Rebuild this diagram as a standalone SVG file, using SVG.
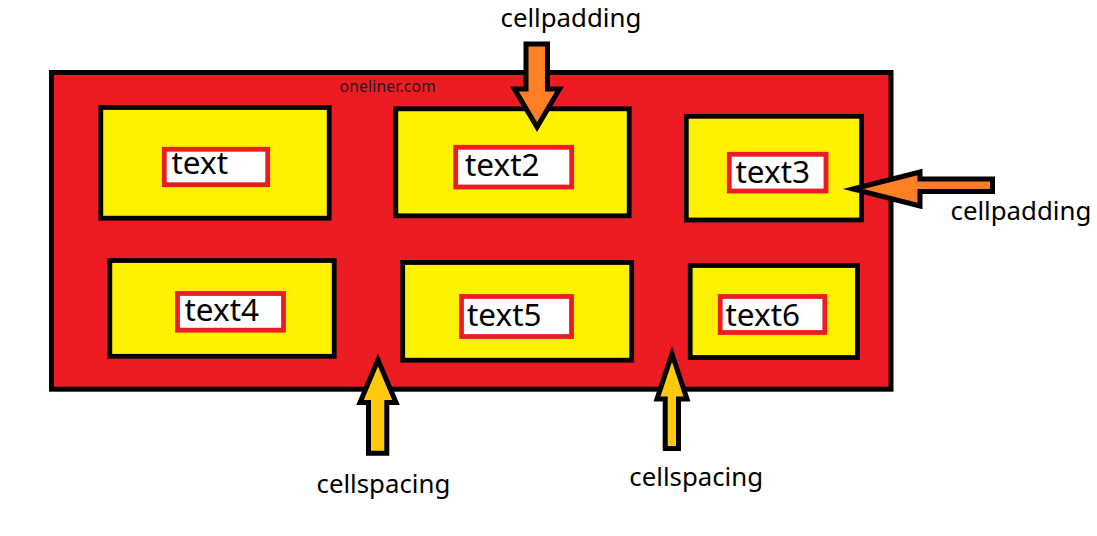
<svg xmlns="http://www.w3.org/2000/svg" width="1097" height="536" viewBox="0 0 1097 536">
<style>
.table{fill:#ED1C24;stroke:#000;stroke-width:5}
.cell{fill:#FFF200;stroke:#000;stroke-width:4.8}
.box{fill:#FFF;stroke:#ED1C24;stroke-width:4.8}
.t{font-family:"Noto Sans","Open Sans","DejaVu Sans",sans-serif;font-size:31.5px;fill:#000}
.lbl{font-family:"Noto Sans","Open Sans","DejaVu Sans",sans-serif;font-size:25.8px;fill:#000}
.small{font-family:"Noto Sans","Open Sans","DejaVu Sans",sans-serif;font-size:15.5px;letter-spacing:0.25px;fill:#1a1a1a}
.pad{fill:#FF7F27;stroke:#000;stroke-width:5;stroke-linejoin:miter;stroke-miterlimit:6}
.spc{fill:#FFC90E;stroke:#000;stroke-width:5;stroke-linejoin:miter;stroke-miterlimit:6}
</style>
<rect width="1097" height="536" fill="#FFF"/>
<g id="table">
<rect class="table" x="51.5" y="72.5" width="839.5" height="316.7"/>
<text class="small" x="339.5" y="91.7">oneliner.com</text>
</g>
<g id="cell1">
<rect class="cell" x="100.8" y="107.5" width="228.4" height="110.7"/>
<rect class="box" x="164.3" y="149.3" width="103.4" height="35.4"/>
<text class="t" x="171.5" y="174.3">text</text>
</g>
<g id="cell2">
<rect class="cell" x="395.8" y="108.8" width="233.4" height="107"/>
<rect class="box" x="455.7" y="147.3" width="116" height="39.7"/>
<text class="t" x="465" y="176">text2</text>
</g>
<g id="cell3">
<rect class="cell" x="686.3" y="116.3" width="175.3" height="103.7"/>
<rect class="box" x="729.3" y="154.3" width="96.7" height="36.7"/>
<text class="t" x="735.5" y="182.7">text3</text>
</g>
<g id="cell4">
<rect class="cell" x="109.8" y="260.5" width="224.4" height="95.8"/>
<rect class="box" x="177.5" y="293.5" width="106" height="36.7"/>
<text class="t" x="184.5" y="320.7">text4</text>
</g>
<g id="cell5">
<rect class="cell" x="402.7" y="262.5" width="229" height="97.7"/>
<rect class="box" x="461.5" y="296.5" width="110" height="40"/>
<text class="t" x="467" y="326">text5</text>
</g>
<g id="cell6">
<rect class="cell" x="690.2" y="265.5" width="167.3" height="92"/>
<rect class="box" x="720.2" y="296.5" width="104.6" height="36"/>
<text class="t" x="725.5" y="325.7">text6</text>
</g>
<g id="connectors">
<polygon class="pad" points="526,44 547.5,44 547.5,89 559.5,89 537,127 514.5,89 526,89"/>
<polygon class="pad" points="853,189 920,172 920,179 992.5,179 992.5,191.5 920,191.5 920,206"/>
<polygon class="spc" points="378,360 396,402.5 386.8,402.5 386.8,453.2 368.5,453.2 368.5,402.5 360,402.5"/>
<polygon class="spc" points="672,354 687,399 678.5,399 678.5,448.5 665.2,448.5 665.2,399 657,399"/>
</g>
<g id="labels">
<text class="lbl" x="500.5" y="26.7">cellpadding</text>
<text class="lbl" x="950.5" y="220">cellpadding</text>
<text class="lbl" x="316.5" y="492.7">cellspacing</text>
<text class="lbl" x="629.3" y="485.7">cellspacing</text>
</g>
</svg>
